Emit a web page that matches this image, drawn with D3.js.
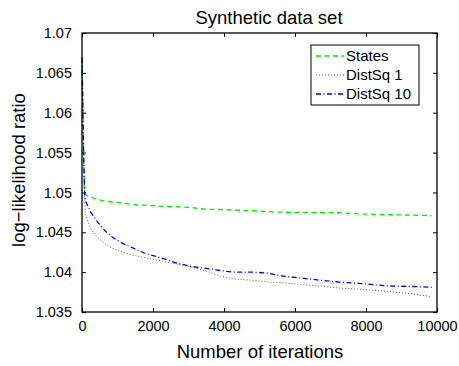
<!DOCTYPE html>
<html><head><meta charset="utf-8">
<script src="https://cdn.jsdelivr.net/npm/d3@7"></script>
<style>body{margin:0;background:#fff}svg{display:block}text{font-family:"Liberation Sans",Arial,sans-serif;fill:#000}</style>
</head><body><svg id="c" width="459" height="366"></svg>
<script>
const iterations = [0, 25, 50, 75, 100, 250, 450, 650, 850, 1100, 1400, 1750, 2250, 2700, 3100, 3450, 3900, 4250, 4800, 5200, 5600, 6100, 6800, 7250, 7800, 8600, 9300, 9850];
const statesVals = [1.0670, 1.0610, 1.0540, 1.0502, 1.0497, 1.0494, 1.0491, 1.0489, 1.0488, 1.0487, 1.0485, 1.0484, 1.04825, 1.0482, 1.0481, 1.0479, 1.04785, 1.0478, 1.0477, 1.0476, 1.04752, 1.0475, 1.04747, 1.04745, 1.0473, 1.04722, 1.04715, 1.0471];
const distSq1Vals = [1.0668, 1.0600, 1.0530, 1.0485, 1.0472, 1.0454, 1.0443, 1.04355, 1.0430, 1.04258, 1.04216, 1.04183, 1.0414, 1.0410, 1.0406, 1.0402, 1.0395, 1.03916, 1.03898, 1.03878, 1.03869, 1.03849, 1.0382, 1.0380, 1.03786, 1.0376, 1.03727, 1.03693];
const distSq10Vals = [1.0668, 1.0605, 1.0540, 1.0498, 1.0489, 1.0475, 1.0462, 1.0452, 1.0444, 1.0437, 1.0431, 1.0424, 1.04175, 1.0411, 1.0407, 1.0405, 1.0402, 1.0400, 1.0400, 1.0399, 1.03953, 1.0393, 1.03894, 1.03875, 1.0386, 1.03827, 1.0382, 1.0381];
const seriesNames = ["States", "DistSq 1", "DistSq 10"];
const xTicks = [0, 2000, 4000, 6000, 8000, 10000];
const yTicks = [1.035, 1.04, 1.045, 1.05, 1.055, 1.06, 1.065, 1.07];
const titleText = "Synthetic data set";
const xLabel = "Number of iterations";
const yLabel = "log\u2212likelihood ratio";

const svg = d3.select("#c");
const L = 82, R = 437, T = 33, B = 312;
const x = d3.scaleLinear().domain([0, 10000]).range([L, R]);
const y = d3.scaleLinear().domain([1.035, 1.07]).range([B, T]);

const styles = [
  {color: "#00ee00", dash: "5,3.5", w: 1.3},
  {color: "#555555", dash: "1,2", w: 1},
  {color: "#0000ff", dash: "5,2.5,1,2.5", w: 1.3}
];
const seriesVals = [statesVals, distSq1Vals, distSq10Vals];

const line = d3.line().x((d, i) => x(iterations[i])).y(d => y(d));
const plot = svg.append("g");
seriesVals.forEach((vals, k) => {
  plot.append("path").datum(vals).attr("d", line)
    .attr("fill", "none").attr("stroke", styles[k].color)
    .attr("stroke-width", styles[k].w).attr("stroke-dasharray", styles[k].dash);
});

const fs = 14.5;
const tl = 4;
const xb = svg.append("g").attr("transform", `translate(0,${B})`)
  .call(d3.axisBottom(x).tickValues(xTicks).tickSizeInner(-tl).tickSizeOuter(0).tickPadding(9).tickFormat(d3.format("d")));
const xt = svg.append("g").attr("transform", `translate(0,${T})`)
  .call(d3.axisTop(x).tickValues(xTicks).tickSizeInner(-tl).tickSizeOuter(0).tickFormat(""));
const yl = svg.append("g").attr("transform", `translate(${L},0)`)
  .call(d3.axisLeft(y).tickValues(yTicks).tickSizeInner(-tl).tickSizeOuter(0).tickPadding(10).tickFormat(d => d3.format("")(+d.toFixed(3))));
const yr = svg.append("g").attr("transform", `translate(${R},0)`)
  .call(d3.axisRight(y).tickValues(yTicks).tickSizeInner(-tl).tickSizeOuter(0).tickFormat(""));
[xb, xt, yl, yr].forEach(g => {
  g.select(".domain").remove();
  g.selectAll("line").attr("stroke", "#000").attr("stroke-width", 1);
  g.selectAll("text").attr("font-size", fs).attr("font-family", "Liberation Sans, Arial, sans-serif").attr("fill", "#000");
});
svg.append("rect").attr("x", L).attr("y", T).attr("width", R - L).attr("height", B - T)
  .attr("fill", "none").attr("stroke", "#000").attr("stroke-width", 1.3);

svg.append("text").attr("x", 269).attr("y", 24).attr("text-anchor", "middle").attr("font-size", 18.5).text(titleText);
svg.append("text").attr("x", 260).attr("y", 358).attr("text-anchor", "middle").attr("font-size", 18.5).text(xLabel);
svg.append("text").attr("transform", "translate(25,170) rotate(-90)").attr("text-anchor", "middle").attr("font-size", 18.5).text(yLabel);

const lg = svg.append("g");
lg.append("rect").attr("x", 311).attr("y", 45).attr("width", 108).attr("height", 60)
  .attr("fill", "#fff").attr("stroke", "#000").attr("stroke-width", 1);
seriesNames.forEach((n, k) => {
  const yy = 56 + k * 19;
  lg.append("line").attr("x1", 316).attr("x2", 344).attr("y1", yy).attr("y2", yy)
    .attr("stroke", styles[k].color).attr("stroke-width", styles[k].w).attr("stroke-dasharray", styles[k].dash);
  lg.append("text").attr("x", 346).attr("y", yy + 5).attr("font-size", 15).text(n);
});
</script></body></html>
